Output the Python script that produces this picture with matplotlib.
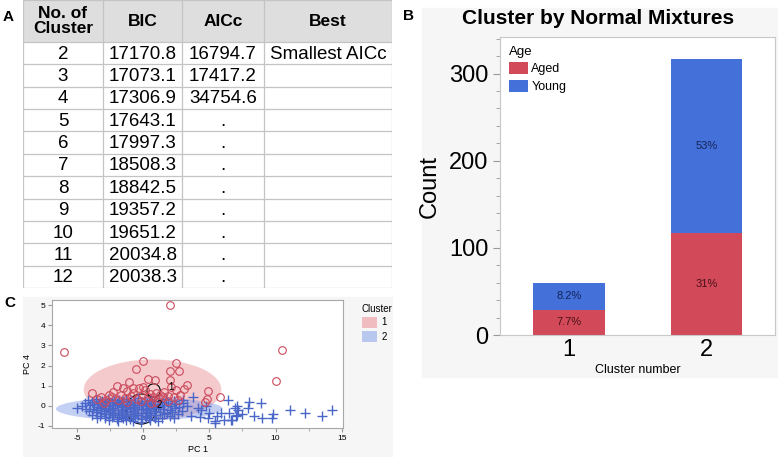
import matplotlib
matplotlib.use("Agg")
import matplotlib.pyplot as plt
from matplotlib.patches import Rectangle, Ellipse, Patch
from matplotlib.ticker import MultipleLocator

plt.rcParams['font.family'] = ['Liberation Sans', 'DejaVu Sans']
plt.rcParams['axes.unicode_minus'] = False

# ---- panel A: model selection table
n_cluster = ['2', '3', '4', '5', '6', '7', '8', '9', '10', '11', '12']
bic = ['17170.8', '17073.1', '17306.9', '17643.1', '17997.3', '18508.3',
       '18842.5', '19357.2', '19651.2', '20034.8', '20038.3']
aicc = ['16794.7', '17417.2', '34754.6', '.', '.', '.', '.', '.', '.', '.', '.']
best = ['Smallest AICc', '', '', '', '', '', '', '', '', '', '']
headers = ['No. of\nCluster', 'BIC', 'AICc', 'Best']

# ---- panel B: counts per cluster
clusters = ['1', '2']
aged = [29, 117]
young = [31, 200]

# ---- panel C: PC scores
red_x = [2.0, -6.0, 10.5, 10.0, 0.0, 2.5, -0.55, 2.0, 2.7, 0.35, 0.85, -1.1, 2.0,
         3.3, 3.05, -2.0, -1.55, -3.9, -2.27, -1.67, -1.21, -0.78, -0.3, 0.1, 0.97,
         1.5, 1.86, 2.1, 4.9, 4.83, 4.7, 5.8, 2.5, 0.72, 1.1, -3.2, -2.8, 0.35, -0.03,
         -0.8, -3.5, -2.4, -1.9, -1.4, -0.9, -0.5, 0.0, 0.5, 1.3, 2.3, 2.8, -2.6, -0.2,
         1.0, 1.9, -1.2, -3.0, 0.6, 2.6, 1.6]
red_y = [5.0, 2.65, 2.75, 1.25, 2.2, 2.1, 1.85, 1.75, 1.73, 1.35, 1.28, 1.17, 1.27,
         1.05, 0.85, 0.96, 0.88, 0.63, 0.71, 0.54, 0.74, 0.66, 0.88, 0.79, 0.63,
         0.46, 0.49, 0.92, 0.75, 0.33, 0.17, 0.46, 0.79, 0.46, 0.38, 0.46, 0.3, 0.43, 0.93,
         0.9, 0.35, 0.45, 0.3, 0.4, 0.5, 0.35, 0.55, 0.6, 0.55, 0.45, 0.55, 0.55, 0.25,
         0.2, 0.25, 0.2, 0.15, 0.15, 0.3, 0.7]

blue_x = [-5.0, 3.75, 6.4, 7.1, 8.0, 8.9, 7.9, 7.15, 7.5, 7.0, 8.4, 9.0, 9.7, 9.8,
          11.1, 12.2, 13.5, 14.3, 6.7, 6.1, 5.6, 5.0, 5.4, 4.9, 4.3, 3.6, 4.1, 4.35,
          3.3, 2.9, 2.6, 2.3, 3.0, 4.75, 5.9, 6.9, 6.5, 5.4, 6.64, 7.1,
          -4.2, -3.6, -3.1, -2.7, -2.2, -1.8, -1.3, -0.9, -0.4, 0.1, 0.6, 1.2, 1.7, 2.3,
          -4.4, -3.9, -3.4, -2.9, -2.5, -2.0, -1.6, -1.1, -0.7, -0.2, 0.3, 0.8, 1.4, 1.9, 2.5, 3.0,
          -4.6, -4.0, -3.5, -3.0, -2.6, -2.1, -1.7, -1.2, -0.8, -0.3, 0.2, 0.7, 1.1, 1.6, 2.1, 2.7,
          -4.3, -3.8, -3.2, -2.8, -2.3, -1.9, -1.4, -1.0, -0.5, 0.0, 0.4, 0.9, 1.5, 2.0, 2.4,
          -4.1, -3.6, -3.0, -2.5, -2.1, -1.6, -1.2, -0.7, -0.2, 0.3, 0.8, 1.3, 1.8, 2.2,
          -3.9, -3.3, -2.8, -2.3, -1.8, -1.4, -0.9, -0.4, 0.1, 0.6, 1.0, 1.6, 2.0,
          -3.5, -2.9, -2.4, -2.0, -1.5, -1.0, -0.6, -0.1, 0.4, 0.9, 1.4,
          -2.6, -1.9, -1.3, -0.8, -0.2, 0.5, 1.1,
          -3.3, -2.4, -1.5, -0.6, 0.4,
          -3.7, -2.8, -1.9, -1.0, -0.1, 0.9,
          -3.3, -2.4, -1.5, -0.6, 0.4, 1.3,
          -3.5, -2.6, -1.7, -0.8, 0.2,
          -3.2, -2.3, -1.4, -0.5, 0.5,
          -2.6, -1.7, -0.8, 0.2]
blue_y = [-0.12, 0.46, 0.3, 0.0, 0.17, 0.13, -0.12, -0.23, -0.43, -0.5, -0.5, -0.62, -0.58, -0.43,
          -0.23, -0.35, -0.48, -0.23, -0.68, -0.68, -0.48, -0.35, -0.76, -0.6, -0.55, -0.5, -0.12, -0.2,
          0.0, -0.25, -0.4, -0.6, 0.3, 0.0, -0.35, -0.12, -0.35, -0.86, -0.69, -0.45,
          0.28, 0.33, 0.25, 0.36, 0.30, 0.27, 0.34, 0.29, 0.37, 0.26, 0.31, 0.24, 0.33, 0.22,
          0.12, 0.18, 0.10, 0.16, 0.20, 0.13, 0.17, 0.11, 0.19, 0.14, 0.16, 0.09, 0.18, 0.12, 0.08, 0.14,
          -0.02, 0.03, -0.05, 0.01, -0.03, 0.04, -0.01, 0.02, -0.04, 0.03, -0.02, 0.01, -0.05, 0.02, -0.03, -0.06,
          -0.14, -0.18, -0.12, -0.16, -0.13, -0.19, -0.15, -0.11, -0.17, -0.14, -0.18, -0.12, -0.16, -0.20, -0.13,
          -0.28, -0.33, -0.27, -0.31, -0.35, -0.29, -0.32, -0.26, -0.34, -0.30, -0.28, -0.33, -0.36, -0.29,
          -0.44, -0.48, -0.42, -0.47, -0.45, -0.50, -0.43, -0.46, -0.49, -0.44, -0.47, -0.42, -0.48,
          -0.58, -0.62, -0.57, -0.64, -0.60, -0.63, -0.59, -0.65, -0.61, -0.58, -0.62,
          -0.72, -0.76, -0.70, -0.74, -0.78, -0.71, -0.75,
          0.22, 0.21, 0.23, 0.20, 0.22,
          0.07, 0.06, 0.08, 0.05, 0.07, 0.06,
          -0.08, -0.09, -0.07, -0.08, -0.10, -0.07,
          -0.22, -0.23, -0.21, -0.24, -0.22,
          -0.38, -0.37, -0.39, -0.36, -0.38,
          -0.53, -0.54, -0.52, -0.55]

# density ellipses (cx, cy, width, height) and cluster-mean circles
ell_1 = (0.7, 0.8, 10.4, 3.0)
ell_2 = (-0.3, -0.15, 12.6, 1.15)
circ_1 = (0.78, 0.76, 1.0, 0.66)
circ_2 = (-0.15, -0.16, 2.26, 1.49)

RED = '#d24a5a'
BLUE = '#4370d9'

W, H = 778, 457
fig = plt.figure(figsize=(W / 100, H / 100), dpi=100)
fig.patch.set_facecolor('white')


def fx(px):
    return px / W


def fy(py):
    return 1 - py / H


# grey panel backgrounds
fig.add_artist(Rectangle((fx(422), fy(377)), fx(778 - 422), (377 - 8) / H,
                         transform=fig.transFigure, color='#f6f6f6', zorder=0))
fig.add_artist(Rectangle((fx(23), fy(457)), fx(392 - 23), (457 - 297) / H,
                         transform=fig.transFigure, color='#f6f6f6', zorder=0))

# panel letters
fig.text(fx(8), fy(17), 'A', fontsize=11, fontweight='bold', ha='center', va='center')
fig.text(fx(408), fy(16), 'B', fontsize=11, fontweight='bold', ha='center', va='center')
fig.text(fx(10), fy(303), 'C', fontsize=11, fontweight='bold', ha='center', va='center')

# ---------------- A: table
ax_t = fig.add_axes([fx(23), fy(288), fx(369), 288 / H])
ax_t.set_xlim(0, 369)
ax_t.set_ylim(288, 0)
ax_t.axis('off')
col_edges = [0, 80, 159, 241, 369]
head_h = 42
row_h = (288 - head_h) / len(n_cluster)
ax_t.add_patch(Rectangle((0, 0), 369, head_h, facecolor='#dedede', edgecolor='none'))
grid_c = '#c4c4c4'
for xe in col_edges:
    ax_t.plot([xe, xe], [0, 288], color=grid_c, lw=0.9)
ax_t.plot([0, 369], [0, 0], color=grid_c, lw=0.9)
for i in range(len(n_cluster) + 1):
    yy = head_h + i * row_h
    ax_t.plot([0, 369], [yy, yy], color=grid_c, lw=0.9)
for j, h in enumerate(headers):
    cx = (col_edges[j] + col_edges[j + 1]) / 2
    ax_t.text(cx, head_h / 2, h, ha='center', va='center', fontsize=12.5,
              fontweight='bold', linespacing=1.0)
cols = [n_cluster, bic, aicc, best]
for j, col in enumerate(cols):
    cx = (col_edges[j] + col_edges[j + 1]) / 2
    for i, v in enumerate(col):
        ax_t.text(cx, head_h + (i + 0.5) * row_h + 1, v, ha='center', va='center',
                  fontsize=13.5)

# ---------------- B: stacked bars
ax_b = fig.add_axes([fx(500), fy(335), fx(275), 298 / H])
xpos = range(len(clusters))
ax_b.bar(xpos, aged, width=0.52, color=RED, label='Aged')
ax_b.bar(xpos, young, width=0.52, bottom=aged, color=BLUE, label='Young')
total = sum(aged) + sum(young)
for i in xpos:
    ax_b.text(i, aged[i] / 2, f"{100 * aged[i] / total:.2g}%", ha='center',
              va='center', fontsize=8, color='#4a1018')
    ax_b.text(i, aged[i] + young[i] / 2, f"{100 * young[i] / total:.2g}%",
              ha='center', va='center', fontsize=8, color='#15255a')
ax_b.set_xlim(-0.5, 1.5)
ax_b.set_ylim(0, 342)
ax_b.set_xticks(list(xpos))
ax_b.set_xticklabels(clusters)
ax_b.yaxis.set_major_locator(MultipleLocator(100))
ax_b.yaxis.set_minor_locator(MultipleLocator(20))
ax_b.tick_params(axis='y', which='major', labelsize=17, length=5, color='#999999')
ax_b.tick_params(axis='y', which='minor', length=3, color='#999999')
ax_b.tick_params(axis='x', labelsize=17, length=0, pad=3)
for s in ax_b.spines.values():
    s.set_color('#c8c8c8')
ax_b.set_ylabel('Count', fontsize=17, labelpad=6)
ax_b.set_xlabel('Cluster number', fontsize=9, labelpad=2)
fig.text(fx(598), fy(19), 'Cluster by Normal Mixtures', fontsize=15,
         fontweight='bold', ha='center', va='center')
leg_b = ax_b.legend(title='Age', loc='upper left', frameon=False, fontsize=9,
                    title_fontsize=9.5, handlelength=1.5, handleheight=1.1,
                    borderaxespad=0.3, labelspacing=0.35, handletextpad=0.3)
leg_b._legend_box.align = 'left'

# ---------------- C: scatter of PC scores
ax_c = fig.add_axes([fx(52), fy(428), fx(291), 128 / H])
ax_c.add_patch(Ellipse(ell_1[:2], ell_1[2], ell_1[3], facecolor='#e88a8e',
                       alpha=0.45, edgecolor='none'))
ax_c.add_patch(Ellipse(ell_2[:2], ell_2[2], ell_2[3], facecolor='#7b96e6',
                       alpha=0.45, edgecolor='none'))
ax_c.plot(blue_x, blue_y, '+', color='#4a66c8', markersize=7, mew=1.0)
ax_c.plot(red_x, red_y, 'o', mfc='none', mec='#cc4a5c', markersize=5.5, mew=0.8)
for c in (circ_1, circ_2):
    ax_c.add_patch(Ellipse(c[:2], c[2], c[3], facecolor='none',
                           edgecolor='black', lw=0.8))
ax_c.text(2.1, 0.94, '1', fontsize=7, ha='center', va='center')
ax_c.text(1.2, 0.05, '2', fontsize=7, ha='center', va='center')
ax_c.set_xlim(-6.9, 15.1)
ax_c.set_ylim(-1.1, 5.25)
ax_c.xaxis.set_major_locator(MultipleLocator(5))
ax_c.xaxis.set_minor_locator(MultipleLocator(2.5))
ax_c.yaxis.set_major_locator(MultipleLocator(1))
ax_c.tick_params(which='major', labelsize=6, length=3, color='#999999', pad=2)
ax_c.tick_params(which='minor', length=2, color='#999999')
for s in ax_c.spines.values():
    s.set_color('#a8a8a8')
ax_c.set_xlabel('PC 1', fontsize=6.5, labelpad=2)
ax_c.set_ylabel('PC 4', fontsize=6.5, labelpad=4)
leg_c = ax_c.legend(handles=[Patch(facecolor='#f0bcc0', edgecolor='none'),
                             Patch(facecolor='#b8c8ee', edgecolor='none')],
                    labels=['1', '2'], title='Cluster', loc='upper left',
                    bbox_to_anchor=(1.035, 1.04), frameon=False, fontsize=7,
                    title_fontsize=7, handlelength=1.6, handleheight=1.4,
                    labelspacing=0.3, handletextpad=0.4)
leg_c._legend_box.align = 'left'

fig.savefig('out.png', dpi=100)
